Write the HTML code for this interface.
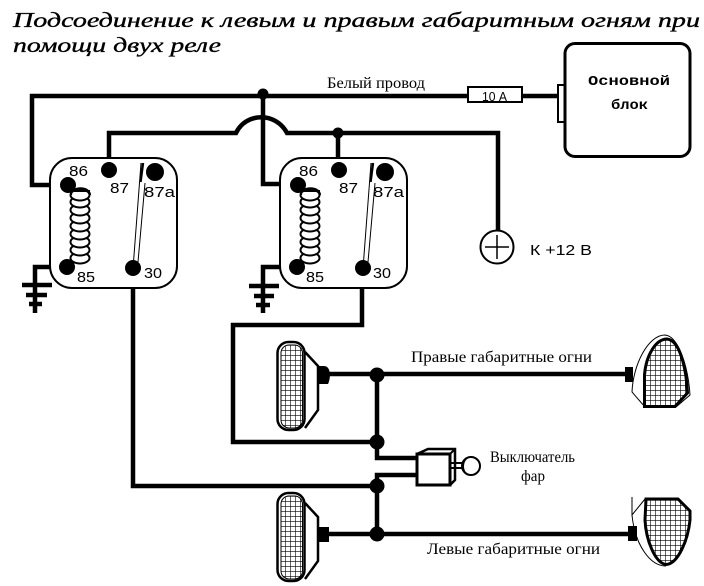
<!DOCTYPE html>
<html lang="ru"><head><meta charset="utf-8"><title>Схема</title>
<style>html,body{margin:0;padding:0;background:#fff}svg{display:block}
text{fill:#000}.s{font-family:"Liberation Sans",sans-serif;font-size:15px}
.r{font-family:"Liberation Serif",serif;font-size:16px}
.t{font-family:"Liberation Serif",serif;font-style:italic;font-size:21px;stroke:#000;stroke-width:.35px}
.b{font-family:"Liberation Mono",monospace;font-weight:700;font-size:14px}</style></head>
<body>
<svg xmlns="http://www.w3.org/2000/svg" width="704" height="586" viewBox="0 0 704 586">
<defs>
<pattern id="g" width="5" height="5" patternUnits="userSpaceOnUse">
<rect width="5" height="5" fill="#fff"/><path d="M0 0H5M0 0V5" stroke="#000" stroke-width="1.200" fill="none"/>
</pattern>
<g id="coil" fill="#fff" stroke="#000" stroke-width="2">
<ellipse cx="80" cy="258" rx="9.500" ry="5.500"/><ellipse cx="80" cy="250" rx="9.500" ry="5.500"/>
<ellipse cx="80" cy="242" rx="9.500" ry="5.500"/><ellipse cx="80" cy="234" rx="9.500" ry="5.500"/>
<ellipse cx="80" cy="226" rx="9.500" ry="5.500"/><ellipse cx="80" cy="218" rx="9.500" ry="5.500"/>
<ellipse cx="80" cy="210" rx="9.500" ry="5.500"/><ellipse cx="80" cy="202" rx="9.500" ry="5.500"/>
<ellipse cx="80" cy="195" rx="9.500" ry="5.500"/><path d="M71 191H90" fill="none"/>
<path d="M71 195C71 186 90 186 90 195" fill="none"/>
</g>
<g id="relay">
<rect x="50" y="158" width="127" height="130" rx="22" fill="#fff" stroke="#000" stroke-width="2"/>
<use href="#coil"/>
<circle cx="68" cy="185" r="8"/><circle cx="109" cy="170" r="8"/><circle cx="155" cy="172" r="9"/>
<circle cx="67" cy="267" r="8"/><circle cx="133" cy="268" r="8"/>
<path d="M133.500 262L141 163M138 262L145 183" stroke="#000" stroke-width="1" fill="none"/>
<path d="M140.500 182L143 163" stroke="#000" stroke-width="2.500" fill="none"/>
</g>
<g id="lamp">
<path d="M305 352L318 366V410L305 428" fill="#fff" stroke="#000" stroke-width="2.500"/>
<rect x="277.500" y="342" width="27" height="88" rx="11" fill="#fff" stroke="#000" stroke-width="2.500"/>
<rect x="281" y="345" width="21.500" height="83" rx="8" fill="url(#g)" stroke="#000" stroke-width="1"/>
</g>
</defs>
<rect width="704" height="586" fill="#fff"/>

<text class="t" x="13" y="27" textLength="687" lengthAdjust="spacingAndGlyphs">Подсоединение к левым и правым габаритным огням при</text>
<text class="t" x="13" y="52" textLength="208" lengthAdjust="spacingAndGlyphs">помощи двух реле</text>

<!-- wires -->
<g fill="none" stroke="#000" stroke-width="4.500">
<path d="M468 96H32V185H68"/>
<path d="M263 96V184H298"/>
<path d="M109 170V133H236C246 112 276 112 287 133H498V232"/>
<path d="M338 133V170"/>
<path d="M523 96H558"/>
<path d="M67 267H35V313"/>
<path d="M297 267H263V313"/>
<path d="M133 268V486H377"/>
<path d="M362 268V325H233V442H377"/>
<path d="M329 374H628"/>
<path d="M329 534H630"/>
<path d="M377 374V458H417"/>
<path d="M417 475H377V534"/>
</g>
<g stroke="#000" stroke-width="4.500">
<path d="M22 285H52M26 295H47M29 304H42"/>
<path d="M249 286H279M254 296H274M256 305H270"/>
</g>

<!-- relays -->
<use href="#relay"/>
<use href="#relay" x="230"/>

<!-- junctions -->
<circle cx="263" cy="94" r="5.500"/><circle cx="338" cy="133" r="5.500"/>
<circle cx="377" cy="375" r="7.500"/><circle cx="377" cy="442" r="7.500"/>
<circle cx="377" cy="486" r="7.500"/><circle cx="377" cy="534" r="7.500"/>

<!-- relay labels -->
<text class="s" x="69" y="176" textLength="19" lengthAdjust="spacingAndGlyphs">86</text>
<text class="s" x="110" y="193" textLength="19" lengthAdjust="spacingAndGlyphs">87</text>
<text class="s" x="144" y="197" textLength="31" lengthAdjust="spacingAndGlyphs">87a</text>
<text class="s" x="77" y="282" textLength="18" lengthAdjust="spacingAndGlyphs">85</text>
<text class="s" x="144" y="278" textLength="18" lengthAdjust="spacingAndGlyphs">30</text>
<text class="s" x="299" y="176" textLength="19" lengthAdjust="spacingAndGlyphs">86</text>
<text class="s" x="339" y="193" textLength="19" lengthAdjust="spacingAndGlyphs">87</text>
<text class="s" x="373" y="197" textLength="31" lengthAdjust="spacingAndGlyphs">87a</text>
<text class="s" x="306" y="282" textLength="18" lengthAdjust="spacingAndGlyphs">85</text>
<text class="s" x="373" y="278" textLength="18" lengthAdjust="spacingAndGlyphs">30</text>

<text class="r" x="327" y="88" textLength="98" lengthAdjust="spacingAndGlyphs">Белый провод</text>

<!-- fuse and main block -->
<rect x="468" y="87" width="54" height="15" fill="#fff" stroke="#000" stroke-width="2"/>
<text class="s" x="482" y="101" style="font-size:13px" textLength="25" lengthAdjust="spacingAndGlyphs">10 А</text>
<rect x="558" y="85" width="7" height="37" fill="#fff" stroke="#000" stroke-width="2"/>
<rect x="565" y="43.500" width="125" height="113" rx="10" fill="#fff" stroke="#000" stroke-width="3"/>
<text class="b" x="588" y="85" textLength="82" lengthAdjust="spacingAndGlyphs">Основной</text>
<text class="b" x="611" y="109" textLength="37" lengthAdjust="spacingAndGlyphs">блок</text>

<!-- +12 -->
<circle cx="497" cy="247" r="16.500" fill="#fff" stroke="#000" stroke-width="2"/>
<path d="M497 235V259M485 247H509" stroke="#000" stroke-width="1.500"/>
<text class="s" x="530" y="255" textLength="62" lengthAdjust="spacingAndGlyphs">К +12 В</text>

<!-- left lamps -->
<use href="#lamp"/>
<use href="#lamp" y="151"/>
<path d="M318 366H324C331 366 331 378 328 384H318Z"/>
<rect x="318" y="527" width="11" height="15"/>

<!-- switch -->
<path d="M417 454L428 449H455V480L450 485" fill="#fff" stroke="#000" stroke-width="2.500"/>
<rect x="417" y="454" width="33" height="31" fill="#fff" stroke="#000" stroke-width="3"/>
<path d="M450 454L455 449" stroke="#000" stroke-width="2"/>
<path d="M450 463H463M450 468H463" stroke="#000" stroke-width="2"/>
<ellipse cx="471" cy="466" rx="9" ry="9" fill="#fff" stroke="#000" stroke-width="2"/>
<path d="M467 458C462 462 462 471 467 474" fill="none" stroke="#000" stroke-width="1.500"/>

<text class="r" x="490" y="462" textLength="85" lengthAdjust="spacingAndGlyphs">Выключатель</text>
<text class="r" x="521" y="481" textLength="24" lengthAdjust="spacingAndGlyphs">фар</text>
<text class="r" x="411" y="362" textLength="181" lengthAdjust="spacingAndGlyphs">Правые габаритные огни</text>
<text class="r" x="427" y="554" textLength="173" lengthAdjust="spacingAndGlyphs">Левые габаритные огни</text>

<!-- right lamps -->
<path d="M632 392C633 365 648 335 665 335C678 336 688 365 690 395L676 407H645Z" fill="#fff" stroke="#000" stroke-width="1"/>
<path d="M644.500 406.500V375C646 355 656 339 667 339C679 340 686 365 687.500 393L675 406.500Z" fill="url(#g)" stroke="#000" stroke-width="3"/>
<rect x="625" y="367" width="8" height="15"/>
<path d="M632 497V515L645 499M632 515C635 545 650 566 666 566" fill="none" stroke="#000" stroke-width="1"/>
<path d="M646 499H678L690 511V520C688 540 678 564 666 564.500C655 563 646 540 645 520Z" fill="url(#g)" stroke="#000" stroke-width="3"/>
<rect x="628" y="526" width="9" height="15"/>
</svg>
</body></html>
